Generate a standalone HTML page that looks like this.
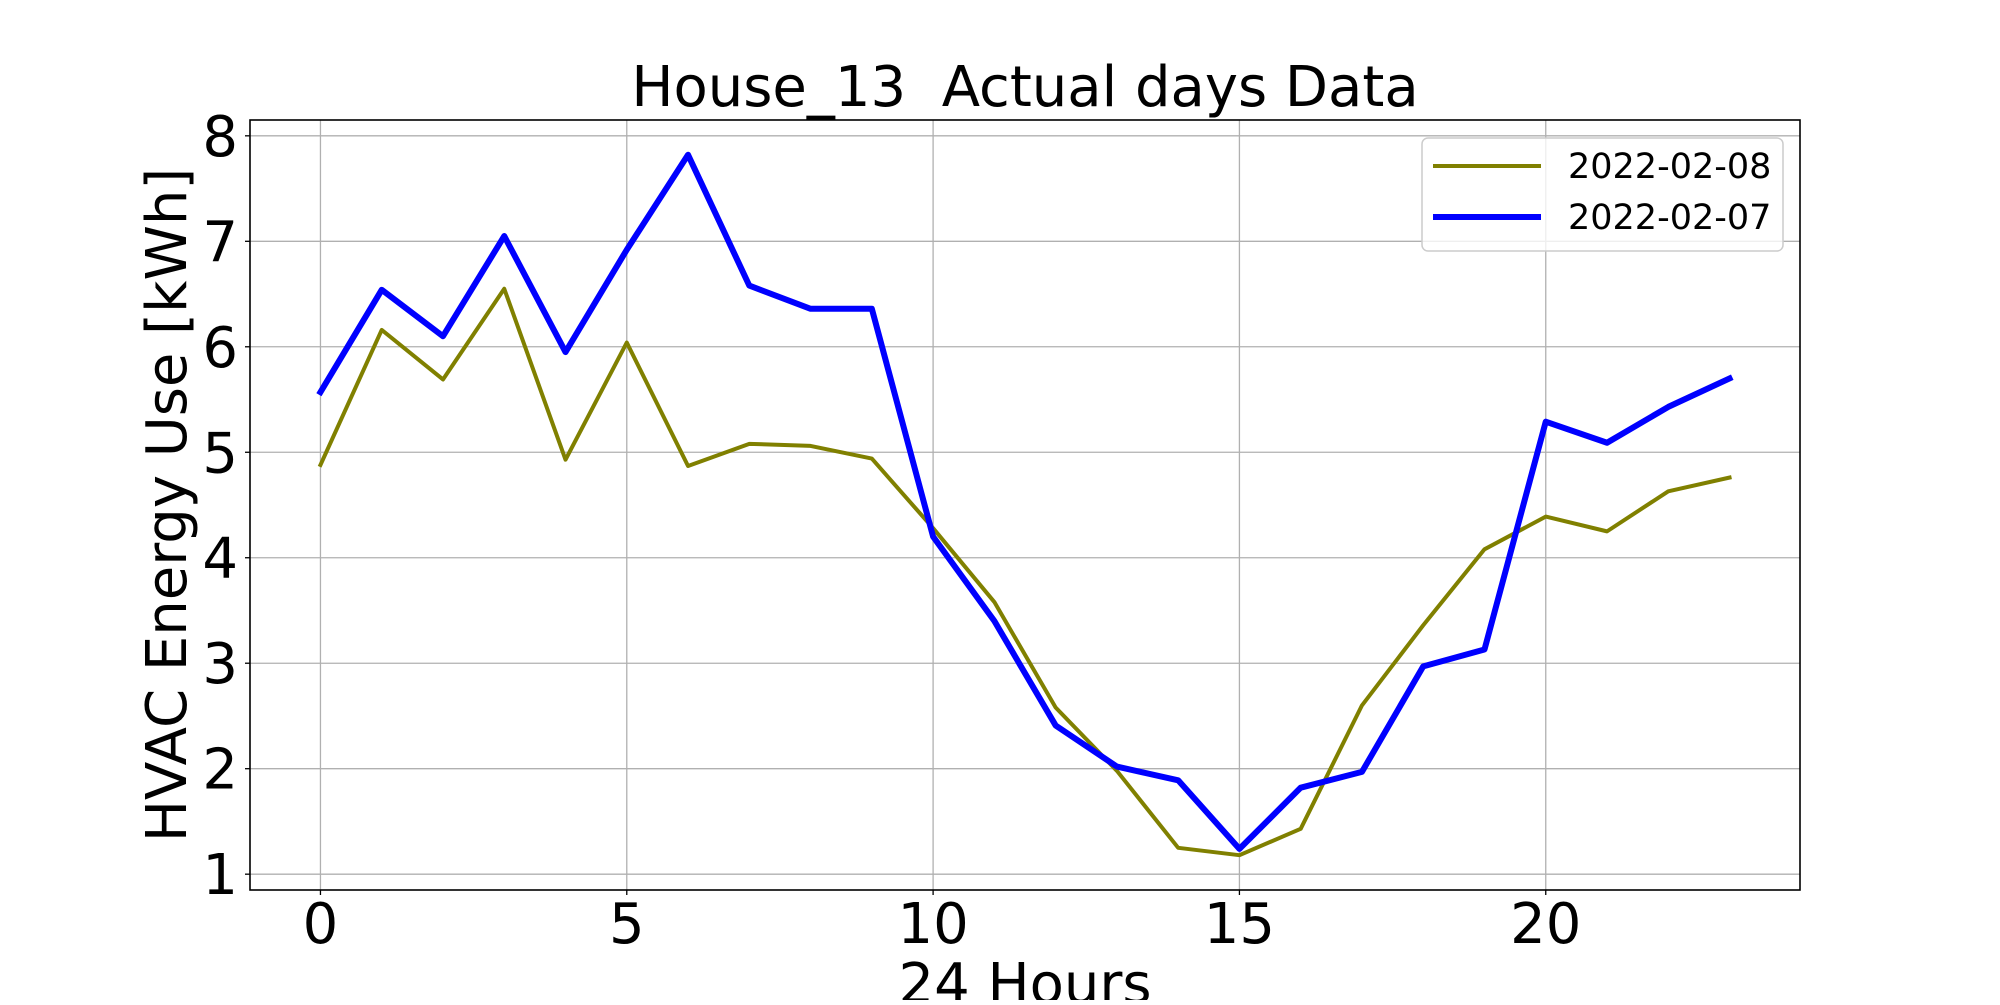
<!DOCTYPE html>
<html><head><meta charset="utf-8"><style>
html,body{margin:0;padding:0;background:#fff;}
svg text{font-family:"DejaVu Sans","Liberation Sans",sans-serif;fill:#000;}
</style></head><body>
<svg id="chart" width="2000" height="1000" viewBox="0 0 2000 1000" xmlns="http://www.w3.org/2000/svg">
<rect width="2000" height="1000" fill="#fff"/>
<g id="grid"></g>
<g id="series"></g>
<rect x="250" y="120" width="1550" height="770" fill="none" stroke="#000" stroke-width="1.6"/>
<g id="ticks"></g>
<text x="1025" y="106" font-size="56" text-anchor="middle" style="white-space:pre" xml:space="preserve">House_13  Actual days Data</text>
<text x="1025" y="1003" font-size="56" text-anchor="middle">24 Hours</text>
<text x="0" y="0" font-size="56" text-anchor="middle" transform="translate(186,505) rotate(-90)">HVAC Energy Use [kWh]</text>
<g>
<rect x="1422" y="138" width="361" height="113" rx="6" fill="#fff" fill-opacity="0.8" stroke="#ccc" stroke-width="1.5"/>
<g>
<line x1="1433" y1="166" x2="1541" y2="166" stroke="#808000" stroke-width="4"/>
<text x="1568" y="178" font-size="35">2022-02-08</text></g>
<g>
<line x1="1433" y1="217" x2="1541" y2="217" stroke="#0000ff" stroke-width="6"/>
<text x="1568" y="229" font-size="35">2022-02-07</text></g>
</g>
</svg>
<script>
const hours = Array.from({length:24},(_,i)=>i);
const series0208 = [4.88,6.16,5.69,6.55,4.93,6.04,4.87,5.08,5.06,4.94,4.28,3.58,2.58,1.98,1.25,1.18,1.43,2.60,3.36,4.08,4.39,4.25,4.63,4.76];
const series0207 = [5.57,6.54,6.10,7.05,5.95,6.92,7.82,6.58,6.36,6.36,4.20,3.40,2.41,2.02,1.89,1.24,1.82,1.97,2.97,3.13,5.29,5.09,5.43,5.70];
const xTicks = [0,5,10,15,20];
const yTicks = [1,2,3,4,5,6,7,8];

const NS="http://www.w3.org/2000/svg";
const X0=250,X1=1800,Y0=890,Y1=120;
const xMin=-1.15,xMax=24.15,yMin=0.85,yMax=8.15;
const sx=v=>X0+(v-xMin)/(xMax-xMin)*(X1-X0);
const sy=v=>Y0-(v-yMin)/(yMax-yMin)*(Y0-Y1);
function mk(tag,attrs,parent){const e=document.createElementNS(NS,tag);for(const k in attrs)e.setAttribute(k,attrs[k]);parent.appendChild(e);return e;}
const grid=document.getElementById('grid'),ticks=document.getElementById('ticks'),ser=document.getElementById('series');
xTicks.forEach(t=>{
  const g=mk('line',{x1:sx(t),x2:sx(t),y1:Y1,y2:Y0,stroke:'#b0b0b0','stroke-width':1.3},grid);
  
  
  const m=mk('line',{x1:sx(t),x2:sx(t),y1:Y0,y2:Y0+5,stroke:'#000','stroke-width':1.3},ticks);
  
  
  const l=mk('text',{x:sx(t),y:943,'font-size':56,'text-anchor':'middle'},ticks);
  l.textContent=t;
  
  
});
yTicks.forEach(t=>{
  const g=mk('line',{x1:X0,x2:X1,y1:sy(t),y2:sy(t),stroke:'#b0b0b0','stroke-width':1.3},grid);
  
  
  const m=mk('line',{x1:X0-5,x2:X0,y1:sy(t),y2:sy(t),stroke:'#000','stroke-width':1.3},ticks);
  
  
  const l=mk('text',{x:X0-12,y:sy(t)+20,'font-size':56,'text-anchor':'end'},ticks);
  l.textContent=t;
  
  
});
function line(vals,color,w,name){
  const p=mk('polyline',{points:vals.map((v,i)=>sx(hours[i])+','+sy(v)).join(' '),fill:'none',stroke:color,'stroke-width':w,'stroke-linejoin':'round','stroke-linecap':'square'},ser);
  
  
}
line(series0208,'#808000',4,'line-2022-02-08');
line(series0207,'#0000ff',6,'line-2022-02-07');
</script>
</body></html>
